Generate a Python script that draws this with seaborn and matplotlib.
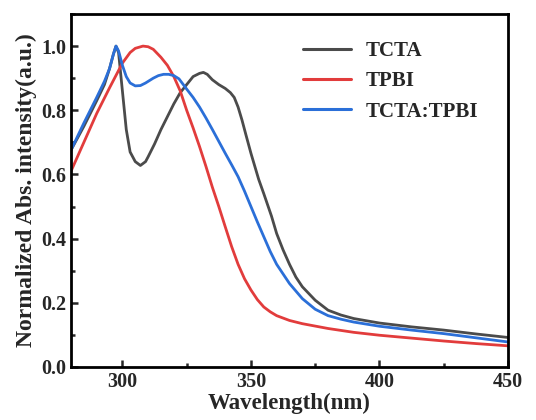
import numpy as np
import pandas as pd
import matplotlib
matplotlib.use("Agg")
import matplotlib.pyplot as plt
import seaborn as sns
from matplotlib.ticker import MultipleLocator

# ---- data ----
tcta_x = [280, 285, 290, 293, 295, 296.5, 297.5, 298.5, 300, 301.5, 303, 305, 307, 309, 310, 312.5, 315,
          317.5, 320, 322.5, 325, 327.5, 330, 331.5, 333, 335, 337.5, 340, 342, 343.5, 345, 346.5, 348, 350,
          353, 355, 358, 360, 362.5, 365, 367.5, 370, 375, 380, 385, 390, 400, 412.5, 425, 437.5, 450]
tcta_y = [0.676, 0.75, 0.83, 0.88, 0.93, 0.975, 1.0, 0.98, 0.86, 0.74, 0.67, 0.64, 0.628, 0.64, 0.655, 0.695, 0.74,
          0.78, 0.82, 0.855, 0.88, 0.905, 0.915, 0.918, 0.912, 0.895, 0.88, 0.868, 0.855, 0.84, 0.81, 0.77, 0.725, 0.666,
          0.585, 0.54, 0.47, 0.416, 0.365, 0.32, 0.28, 0.25, 0.208, 0.177, 0.162, 0.151, 0.137, 0.125, 0.115, 0.103, 0.092]

tpbi_x = [280, 285, 290, 295, 300, 303, 305, 308, 310, 312, 315, 317.5, 320, 322.5, 325, 327.5, 330, 332.5,
          335, 337.5, 340, 342.5, 345, 347.5, 350, 352.5, 355, 357.5, 360, 365, 370, 380, 390, 400, 412.5, 425, 437.5, 450]
tpbi_y = [0.61, 0.70, 0.79, 0.87, 0.947, 0.98, 0.993, 1.0, 0.998, 0.99, 0.965, 0.94, 0.905, 0.86, 0.80, 0.745, 0.687, 0.625,
          0.56, 0.50, 0.437, 0.375, 0.32, 0.275, 0.24, 0.21, 0.187, 0.172, 0.16, 0.145, 0.135, 0.12, 0.108, 0.099, 0.09, 0.081, 0.073, 0.066]

mix_x = [280, 285, 290, 293, 295, 296.5, 297.5, 298.5, 300, 301.5, 303, 305, 307, 309, 312, 314, 316, 318,
         320, 322, 325, 327.5, 330, 332.5, 335, 337.5, 340, 342.5, 345, 347.5, 350, 352.5, 355, 357.5, 360,
         365, 370, 375, 380, 385, 390, 400, 412.5, 425, 437.5, 450]
mix_y = [0.676, 0.76, 0.84, 0.89, 0.93, 0.975, 1.0, 0.985, 0.94, 0.905, 0.885, 0.876, 0.877, 0.885, 0.9, 0.908, 0.912, 0.912,
         0.908, 0.898, 0.866, 0.84, 0.81, 0.776, 0.74, 0.703, 0.666, 0.63, 0.593, 0.548, 0.50, 0.452, 0.406, 0.36, 0.32,
         0.26, 0.213, 0.18, 0.16, 0.149, 0.14, 0.127, 0.115, 0.104, 0.091, 0.078]

series = ["TCTA", "TPBI", "TCTA:TPBI"]
colors = ["#4b4b4b", "#e23c3c", "#2b6fd8"]

df = pd.concat([
    pd.DataFrame({"Wavelength": tcta_x, "Abs": tcta_y, "Sample": "TCTA"}),
    pd.DataFrame({"Wavelength": tpbi_x, "Abs": tpbi_y, "Sample": "TPBI"}),
    pd.DataFrame({"Wavelength": mix_x, "Abs": mix_y, "Sample": "TCTA:TPBI"}),
], ignore_index=True)

sns.set_theme(style="ticks")
plt.rcParams["font.family"] = ["Liberation Serif", "DejaVu Serif"]
plt.rcParams["font.weight"] = "bold"

fig = plt.figure(figsize=(5.36, 4.20), dpi=100)
ax = fig.add_axes([71/536, 1-367/420, (508-71)/536, (367-14)/420])

sns.lineplot(data=df, x="Wavelength", y="Abs", hue="Sample", hue_order=series,
             palette=colors, sort=False, estimator=None, linewidth=2.0, ax=ax)

ax.set_xlim(280, 450)
ax.set_ylim(0, 1.1)
ax.xaxis.set_major_locator(MultipleLocator(50))
ax.xaxis.set_minor_locator(MultipleLocator(25))
ax.yaxis.set_major_locator(MultipleLocator(0.2))
ax.yaxis.set_minor_locator(MultipleLocator(0.1))
ax.set_yticks([0.0, 0.2, 0.4, 0.6, 0.8, 1.0])
ax.set_yticklabels(["0.0", "0.2", "0.4", "0.6", "0.8", "1.0"])
ax.tick_params(which="both", direction="in", width=1.8, labelsize=14.5)
ax.tick_params(which="major", length=5)
ax.tick_params(which="minor", length=3)
for lab in ax.get_xticklabels() + ax.get_yticklabels():
    lab.set_fontweight("bold")
for s in ax.spines.values():
    s.set_linewidth(2.0)
    s.set_color("black")

ax.set_xlabel("Wavelength(nm)", fontsize=16.5, fontweight="bold", labelpad=1)
ax.set_ylabel("Normalized Abs. intensity(a.u.)", fontsize=17, fontweight="bold", labelpad=3)

leg = ax.legend(title=None, loc="upper right", bbox_to_anchor=(0.966, 0.965), frameon=False,
                prop={"size": 15, "weight": "bold"}, handlelength=2.3, handletextpad=0.7,
                labelspacing=0.5, borderaxespad=0.3)
for line in leg.get_lines():
    line.set_linewidth(2.2)

fig.savefig("out.png", dpi=100)
